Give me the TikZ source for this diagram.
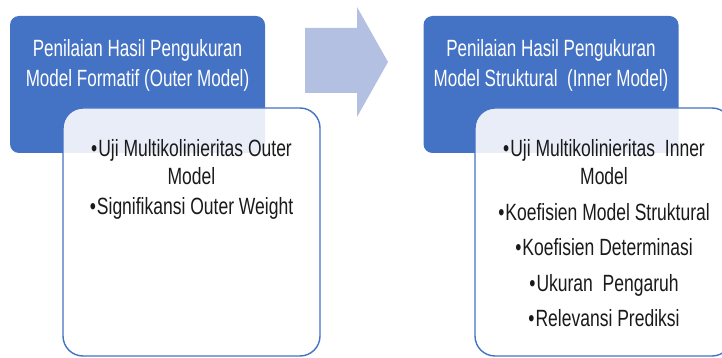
\documentclass[tikz,border=0pt]{standalone}
\usepackage{fontspec}
\setmainfont{Liberation Sans}
\newfontfamily\ttlfont[FakeStretch=0.725]{Liberation Sans}
\newfontfamily\itmfont[FakeStretch=0.745]{Liberation Sans}
\definecolor{hdblue}{HTML}{4472C4}
\definecolor{arrblue}{HTML}{B3C0E1}
\definecolor{itmtxt}{HTML}{1A1A1A}
\begin{document}
\begin{tikzpicture}[x=1pt, y=-1pt,
  hd/.style={fill=hdblue, rounded corners=9pt, minimum width=255pt, minimum height=137pt, inner sep=0pt},
  ttl/.style={anchor=north, inner sep=0pt, align=center, text=white, font=\ttlfont\fontsize{23.5}{29.5}\selectfont},
  lst/.style={draw=hdblue, line width=1.4pt, fill=white, fill opacity=0.88, rounded corners=20pt, minimum width=257pt, minimum height=248pt, inner sep=0pt},
  itm/.style={anchor=north, inner sep=0pt, align=center, text=itmtxt, font=\itmfont\fontsize{23.5}{28.5}\selectfont}]
\useasboundingbox (0,0) rectangle (722,358);
\clip (0,0) rectangle (722,358);
% first stage
\node[hd] (fb) at (137.5,84.5) {};
\node[lst] (fl) at (191.5,232) {};
\node[ttl] (ft) at (137.5,39.5) {Penilaian Hasil Pengukuran\\Model Formatif (Outer Model)};
\node[itm] (fi) at (191.5,139) {\textbullet\hspace{1pt}Uji Multikolinieritas Outer\\Model\\[1.5pt]\textbullet\hspace{1pt}Signifikansi Outer Weight};
% arrow
\fill[arrblue] (305,28) -- (357,28) -- (357,7) -- (388,62) -- (357,117) -- (357,93) -- (305,93) -- cycle;
% second stage
\node[hd] (sb) at (551,84.5) {};
\node[lst] (sl) at (603.5,232) {};
\node[ttl] (st) at (551,39.5) {Penilaian Hasil Pengukuran\\Model Struktural\ \ (Inner Model)};
\node[itm] (si) at (604,139) {\textbullet\hspace{1pt}Uji Multikolinieritas\ \ Inner\\Model\\[7pt]\textbullet\hspace{1pt}Koefisien Model Struktural\\[7pt]\textbullet\hspace{1pt}Koefisien Determinasi\\[7pt]\textbullet\hspace{1pt}Ukuran\ \ Pengaruh\\[7pt]\textbullet\hspace{1pt}Relevansi Prediksi};
\end{tikzpicture}
\end{document}
